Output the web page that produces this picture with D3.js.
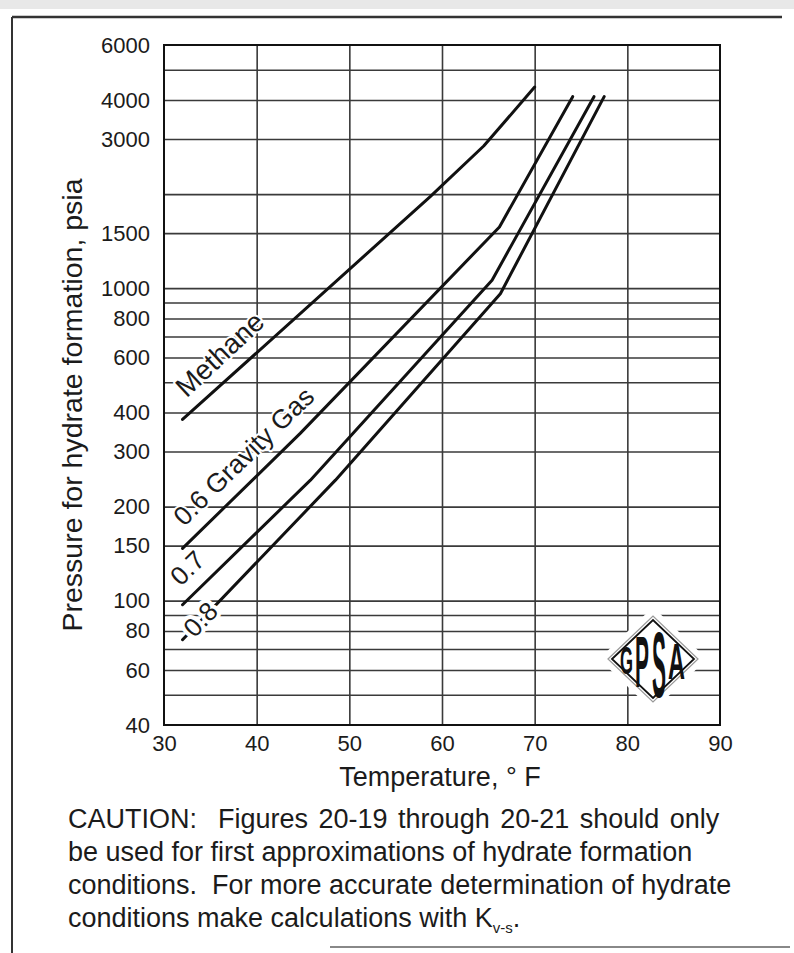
<!DOCTYPE html>
<html>
<head>
<meta charset="utf-8">
<script src="https://cdn.jsdelivr.net/npm/d3@7"></script>
<style>
  body { margin: 0; background: #fff; }
  svg text { font-family: "Liberation Sans", Arial, Helvetica, sans-serif; fill: #1b1b1b; }
</style>
</head>
<body>
<div id="chart"></div>
<script>
// ---- data ----
const xTicks = [30, 40, 50, 60, 70, 80, 90]
const yTickLabels = [40, 60, 80, 100, 150, 200, 300, 400, 600, 800, 1000, 1500, 3000, 4000, 6000]
const yGridValues = [50, 60, 70, 80, 90, 100, 150, 200, 300, 400, 500, 600, 700, 800, 900, 1000, 1500, 2000, 3000, 4000, 5000]

const seriesNames = ['Methane', '0.6 Gravity Gas', '0.7', '0.8']
const methaneT = [32, 58.7, 64.5, 70]
const methaneP = [380, 1960, 2850, 4400]
const gas06T = [32, 44.7, 66.2, 74.1]
const gas06P = [147, 343, 1570, 4100]
const gas07T = [32, 45.8, 65.4, 76.4]
const gas07P = [97, 243, 1060, 4100]
const gas08T = [32, 48.5, 66.3, 77.5]
const gas08P = [75, 243, 960, 4100]

const captionLines = [
  'CAUTION:  Figures 20-19 through 20-21 should only',
  'be used for first approximations of hydrate formation',
  'conditions.  For more accurate determination of hydrate',
  'conditions make calculations with K'
]

const width = 794
const height = 953
const plotLeft = 164
const plotRight = 720
const plotTop = 45
const plotBottom = 725

const svg = d3.select('#chart').append('svg')
  .attr('width', width)
  .attr('height', height)

const x = d3.scaleLinear().domain([30, 90]).range([plotLeft, plotRight])
const y = d3.scaleLog().domain([40, 6000]).range([plotBottom, plotTop])

// scan border
svg.append('rect').attr('x', 0).attr('y', 0).attr('width', width).attr('height', 9).attr('fill', '#e8e8e8')
svg.append('line').attr('x1', 12).attr('x2', 782).attr('y1', 17).attr('y2', 17)
  .attr('stroke', '#333').attr('stroke-width', 2.5)
svg.append('line').attr('x1', 12).attr('x2', 12).attr('y1', 17).attr('y2', height)
  .attr('stroke', '#333').attr('stroke-width', 2)
svg.append('line').attr('x1', 330).attr('x2', 790).attr('y1', 947).attr('y2', 947)
  .attr('stroke', '#888').attr('stroke-width', 2)

// grid
const gridY = svg.append('g')
  .attr('transform', `translate(${plotLeft},0)`)
  .call(d3.axisLeft(y).tickValues(yGridValues).tickSize(-(plotRight - plotLeft)).tickFormat(''))
gridY.select('.domain').remove()
gridY.selectAll('line').attr('stroke', '#3a3a3a').attr('stroke-width', 1.6)

const gridX = svg.append('g')
  .attr('transform', `translate(0,${plotBottom})`)
  .call(d3.axisBottom(x).tickValues(xTicks.slice(1, -1)).tickSize(-(plotBottom - plotTop)).tickFormat(''))
gridX.select('.domain').remove()
gridX.selectAll('line').attr('stroke', '#3a3a3a').attr('stroke-width', 1.6)

// frame
svg.append('rect')
  .attr('x', plotLeft).attr('y', plotTop)
  .attr('width', plotRight - plotLeft).attr('height', plotBottom - plotTop)
  .attr('fill', 'none').attr('stroke', '#111').attr('stroke-width', 2)

// tick labels
const axisY = svg.append('g')
  .attr('transform', `translate(${plotLeft},0)`)
  .call(d3.axisLeft(y).tickValues(yTickLabels).tickSize(0).tickPadding(14).tickFormat(d3.format('d')))
axisY.select('.domain').remove()
axisY.selectAll('text').attr('font-size', 22).attr('font-family', null)

const axisX = svg.append('g')
  .attr('transform', `translate(0,${plotBottom})`)
  .call(d3.axisBottom(x).tickValues(xTicks).tickSize(0).tickPadding(10))
axisX.select('.domain').remove()
axisX.selectAll('text').attr('font-size', 22).attr('font-family', null)

// axis titles
svg.append('text')
  .attr('x', (plotLeft + plotRight) / 2 - 2).attr('y', 786)
  .attr('text-anchor', 'middle').attr('font-size', 27)
  .text('Temperature, \u00b0 F')

svg.append('text')
  .attr('transform', `translate(82,${(plotTop + plotBottom) / 2 + 20}) rotate(-90)`)
  .attr('text-anchor', 'middle').attr('font-size', 28.5)
  .text('Pressure for hydrate formation, psia')

// GPSA logo
const logo = svg.append('g').attr('transform', 'translate(653,659)')
const diamond = (w, h) => `M${-w},0L0,${-h}L${w},0L0,${h}Z`
logo.append('path').attr('d', diamond(54, 52)).attr('fill', '#fff')
logo.append('path').attr('d', diamond(45, 43)).attr('fill', 'none').attr('stroke', '#999').attr('stroke-width', 1.2)
logo.append('path').attr('d', diamond(41, 39)).attr('fill', 'none').attr('stroke', '#111').attr('stroke-width', 1.8)
const letterBoxes = [
  { ch: 'G', x0: -33, x1: -20, y0: -16, y1: 15 },
  { ch: 'P', x0: -18, x1: -4, y0: -31, y1: 28 },
  { ch: 'S', x0: -1, x1: 13, y0: -37, y1: 38 },
  { ch: 'A', x0: 15, x1: 32, y0: -21, y1: 20 }
]
letterBoxes.forEach(b => {
  const t = logo.append('text')
    .attr('font-size', 100)
    .attr('font-weight', 'bold')
    .style('fill', '#111')
    .text(b.ch)
  const bb = t.node().getBBox()
  const sx = (b.x1 - b.x0) / bb.width
  const sy = (b.y1 - b.y0) / (bb.height * 0.72)
  t.attr('transform', `translate(${b.x0 - bb.x * sx},${b.y1}) scale(${sx},${sy})`)
})

// curves
const seriesT = [methaneT, gas06T, gas07T, gas08T]
const seriesP = [methaneP, gas06P, gas07P, gas08P]
const line = d3.line().x(d => x(d[0])).y(d => y(d[1]))

seriesT.forEach((ts, i) => {
  const pts = ts.map((t, j) => [t, seriesP[i][j]])
  svg.append('path')
    .attr('d', line(pts))
    .attr('fill', 'none')
    .attr('stroke', '#111')
    .attr('stroke-width', 3)
    .attr('stroke-linecap', 'round')
    .attr('stroke-linejoin', 'round')
})

// curve labels, set along the first segment of each curve
const labelOffsets = [
  { along: 17, off: 13, halo: 4, size: 28, tilt: -1 },
  { along: 16, off: 14, halo: 4, size: 26.5, tilt: 0 },
  { along: 11, off: 14, halo: 4, size: 26, tilt: 0 },
  { along: 9, off: -8, halo: 8, size: 26, tilt: 0 }
]
seriesNames.forEach((name, i) => {
  const x0 = x(seriesT[i][0]), y0 = y(seriesP[i][0])
  const x1 = x(seriesT[i][1]), y1 = y(seriesP[i][1])
  const len = Math.hypot(x1 - x0, y1 - y0)
  const ux = (x1 - x0) / len, uy = (y1 - y0) / len
  const nx = uy, ny = -ux
  const o = labelOffsets[i]
  const px = x0 + ux * o.along + nx * o.off
  const py = y0 + uy * o.along + ny * o.off
  const ang = Math.atan2(uy, ux) * 180 / Math.PI + o.tilt
  svg.append('text')
    .attr('transform', `translate(${px},${py}) rotate(${ang})`)
    .attr('font-size', o.size)
    .attr('stroke', '#fff').attr('stroke-width', o.halo)
    .attr('stroke-linejoin', 'round')
    .style('paint-order', 'stroke')
    .text(name)
})

// caption
const cap = svg.append('text')
  .attr('font-size', 27)
  .style('white-space', 'pre')
captionLines.forEach((s, i) => {
  cap.append('tspan').attr('x', 68).attr('y', 828 + i * 33)
    .attr('word-spacing', i === 0 ? 3 : 0)
    .text(s)
})
cap.append('tspan').attr('font-size', 15).attr('dy', 6).text('v-s')
cap.append('tspan').attr('dy', -6).text('.')
</script>
</body>
</html>
